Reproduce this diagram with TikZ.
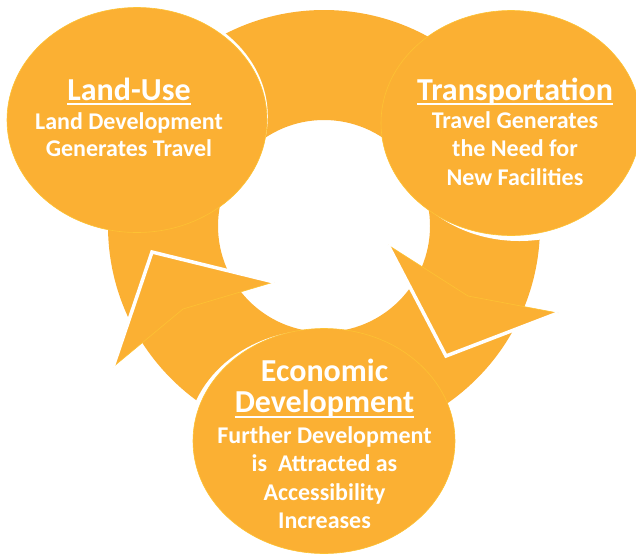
\documentclass[tikz,border=0pt]{standalone}
\usepackage{fontspec}
\setmainfont{Carlito}
\definecolor{ringc}{RGB}{251,176,51}
\definecolor{seamc}{RGB}{253,194,52}
\begin{document}
\begin{tikzpicture}[x=1pt,y=-1pt,
  whiteedge/.style={draw=white, line width=3.5pt, line join=miter},
  seamline/.style={draw=seamc, line width=0.6pt},
  bubble/.style={fill=ringc, draw=seamc, line width=0.6pt},
  gap/.style={fill=white},
  ttl/.style={text=white, font=\fontsize{32}{38}\selectfont\bfseries, anchor=base, inner sep=0pt},
  bdy/.style={text=white, font=\fontsize{24}{28}\selectfont\bfseries, anchor=base, inner sep=0pt},
  uline/.style={draw=white, line width=1.8pt}]
\useasboundingbox (0,0) rectangle (636,555);
\clip (0,0) rectangle (636,555);

% ring
\coordinate (C) at (324,226);
\fill[ringc, even odd rule] (C) circle[radius=216pt] (C) circle[radius=106pt];

% left arrow head
\coordinate (L1) at (152,252);
\coordinate (L2) at (274,282);
\coordinate (L3) at (183,309);
\coordinate (L4) at (113,367);
\fill[ringc] (L1) -- (L2) -- (L3) -- (L4) -- cycle;
\draw[seamline] (L2) -- (L3) -- (L4);
\draw[whiteedge] (L4) -- (L1) -- (L2);

% right arrow head
\coordinate (R1) at (388,245);
\coordinate (R2) at (446,356);
\coordinate (R3) at (558,313);
\coordinate (R4) at (468,296);
\fill[ringc] (R1) -- (R2) -- (R3) -- (R4) -- cycle;
\draw[seamline] (R3) -- (R4) -- (R1);
\draw[whiteedge] (R1) -- (R2) -- (R3);

% Land-Use bubble
\fill[gap] (137.8,116.5) ellipse[x radius=130pt, y radius=112.5pt];
\path[bubble] (137,120) ellipse[x radius=130pt, y radius=112.5pt];
% Transportation bubble
\fill[gap] (519.4,128.5) ellipse[x radius=130pt, y radius=112.5pt];
\path[bubble] (511,123) ellipse[x radius=130pt, y radius=112.5pt];
% Economic bubble
\fill[gap] (317.8,442.4) ellipse[x radius=131pt, y radius=112.5pt];
\path[bubble] (324,441) ellipse[x radius=131pt, y radius=112.5pt];

% texts
\node[ttl] (lut) at (129,100) {Land-Use};
\draw[uline] ([yshift=-4pt]lut.base west) -- ([yshift=-4pt]lut.base east);
\node[bdy] (lu1) at (129,129.3) {Land Development};
\node[bdy] (lu2) at (129,156.7) {Generates Travel};

\node[ttl] (trt) at (515,100) {Transportation};
\draw[uline] ([yshift=-4pt]trt.base west) -- ([yshift=-4pt]trt.base east);
\node[bdy] (tr1) at (515,128.3) {Travel Generates};
\node[bdy] (tr2) at (515,156.7) {the Need for};
\node[bdy] (tr3) at (515,185) {New Facilities};

\node[ttl] (ect1) at (324.5,381.7) {Economic};
\node[ttl] (ect2) at (324.5,412.3) {Development};
\draw[uline] ([yshift=-4.4pt]ect2.base west) -- ([yshift=-4.4pt]ect2.base east);
\node[bdy] (ec1) at (324.5,443.3) {Further Development};
\node[bdy] (ec2) at (324.5,471.7) {is\ \ Attracted as};
\node[bdy] (ec3) at (324.5,500.7) {Accessibility};
\node[bdy] (ec4) at (324.5,528.3) {Increases};
\end{tikzpicture}
\end{document}
